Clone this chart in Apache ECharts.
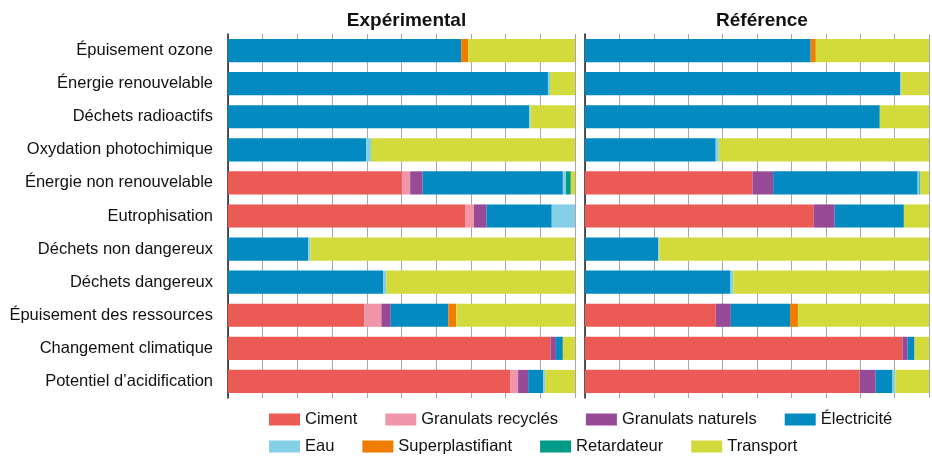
<!DOCTYPE html>
<html><head><meta charset="utf-8">
<script src="https://cdn.jsdelivr.net/npm/echarts@6/dist/echarts.min.js"></script>
<style>html,body{margin:0;padding:0;background:#fff}#c{width:932px;height:456px}</style>
</head><body><div id="c"></div>
<script>
const categories = ["Épuisement ozone","Énergie renouvelable","Déchets radioactifs","Oxydation photochimique","Énergie non renouvelable","Eutrophisation","Déchets non dangereux","Déchets dangereux","Épuisement des ressources","Changement climatique","Potentiel d’acidification"];
const seriesNames = ["Ciment","Granulats recyclés","Granulats naturels","Électricité","Eau","Superplastifiant","Retardateur","Transport"];
const panelTitles = ["Expérimental","Référence"];

// Expérimental
const expCiment      = [0,0,0,0,50.1,68.3,0,0,39.3,93.0,81.3];
const expRecycles    = [0,0,0,0,2.4,2.6,0,0,4.9,0,2.3];
const expNaturels    = [0,0,0,0,3.6,3.6,0,0,2.7,1.5,2.9];
const expElec        = [67.2,92.2,86.8,39.8,40.4,18.8,23.1,44.7,16.6,2.0,4.3];
const expEau         = [0,0.6,0.4,1.4,0.9,6.7,0.6,0.9,0,0,0.6];
const expSuper       = [2.0,0,0,0,0,0,0,0,2.3,0,0];
const expRetard      = [0,0,0,0,1.4,0,0,0,0,0,0];
const expTransport   = [30.8,7.2,12.8,58.8,1.2,0,76.3,54.4,34.2,3.5,8.6];

// Référence
const refCiment      = [0,0,0,0,48.7,66.5,0,0,38.0,92.3,79.8];
const refRecycles    = [0,0,0,0,0,0,0,0,0,0,0];
const refNaturels    = [0,0,0,0,6.0,6.1,0,0,4.4,1.5,4.7];
const refElec        = [65.6,91.7,85.7,38.0,42.0,20.1,21.3,42.3,17.2,2.0,4.9];
const refEau         = [0,0.2,0,0.9,0.5,0,0.3,0.8,0,0,0.8];
const refSuper       = [1.5,0,0,0,0,0,0,0,2.3,0,0];
const refRetard      = [0,0,0,0,0.3,0,0,0,0,0,0];
const refTransport   = [32.9,8.1,14.3,61.1,2.5,7.3,78.4,56.9,38.1,4.2,9.8];

const colors = ["#EB5A54","#F096A8","#974B96","#038AC0","#85CFE7","#F07D00","#009A88","#D3DA3B"];
const expData = [expCiment,expRecycles,expNaturels,expElec,expEau,expSuper,expRetard,expTransport];
const refData = [refCiment,refRecycles,refNaturels,refElec,refEau,refSuper,refRetard,refTransport];

function hasFont(name){
  const c=document.createElement('canvas').getContext('2d');
  c.font='40px monospace'; const a=c.measureText('Granulats recyclés').width;
  c.font='40px "'+name+'", monospace'; const b=c.measureText('Granulats recyclés').width;
  return Math.abs(a-b)>0.5;
}
const narrow = hasFont('Liberation Sans Narrow');
const FF = narrow ? '"Liberation Sans Narrow", "Liberation Sans", Arial, sans-serif' : '"Liberation Sans", Arial, sans-serif';
const labelSize = narrow ? 20 : 16.5;
const titleSize = narrow ? 22 : 19;

const grids = [
  {left:228, width:347, top:34, height:364},
  {left:585, width:344, top:34, height:364}
];
const xAxes = [0,1].map(i=>({
  gridIndex:i, type:'value', min:0, max:100, interval:10,
  axisLabel:{show:false}, axisTick:{show:false}, axisLine:{show:false},
  splitLine:{show:true, lineStyle:{color:'#a8a8a8', width:1}}
}));
const yAxes = [0,1].map(i=>({
  gridIndex:i, type:'category', data:categories, inverse:true,
  axisTick:{show:false},
  axisLine:{show:true, lineStyle:{color:'#222', width:1.5}},
  axisLabel:{show:i===0, fontFamily:FF, fontSize:labelSize, color:'#111', margin:15}
}));
const series=[];
[expData,refData].forEach((d,pi)=>{
  d.forEach((arr,si)=>{
    series.push({
      name:seriesNames[si], type:'bar', stack:'p'+pi,
      xAxisIndex:pi, yAxisIndex:pi, data:arr,
      barCategoryGap:'30%', itemStyle:{color:colors[si]},
      emphasis:{disabled:true}, animation:false
    });
  });
});
const legendCommon = {
  icon:'rect', itemWidth:31, itemHeight:12, itemGap:28, left:264,
  textStyle:{fontFamily:FF, fontSize:labelSize, color:'#111'}
};
const chart = echarts.init(document.getElementById('c'), null, {renderer:'canvas'});
chart.setOption({
  animation:false,
  color:colors,
  title:[
    {text:panelTitles[0], left:401.5, top:6, textAlign:'center', textStyle:{fontFamily:FF, fontSize:titleSize, fontWeight:'bold', color:'#111'}},
    {text:panelTitles[1], left:757, top:6, textAlign:'center', textStyle:{fontFamily:FF, fontSize:titleSize, fontWeight:'bold', color:'#111'}}
  ],
  legend:[
    Object.assign({top:406, data:seriesNames.slice(0,4)}, legendCommon),
    Object.assign({top:433, data:seriesNames.slice(4)}, legendCommon)
  ],
  grid:grids, xAxis:xAxes, yAxis:yAxes, series:series
});
</script></body></html>
